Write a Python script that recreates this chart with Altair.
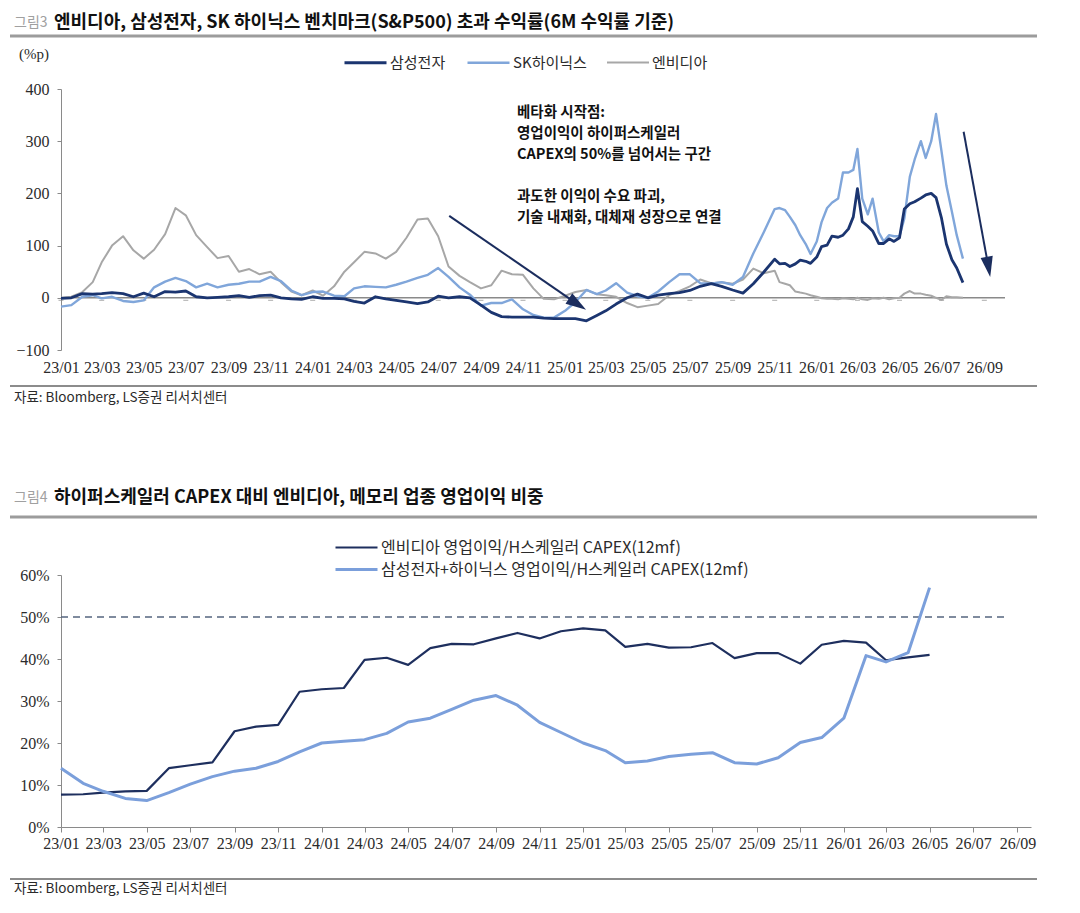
import pandas as pd
import altair as alt

NUM_FONT = "Liberation Sans Narrow"
KR_FONT = "Noto Sans CJK KR"

# ---------- 그림3: 6M excess return vs S&P500 (%p) ----------
top_series = ["삼성전자", "SK하이닉스", "엔비디아"]
top_colors = ["#1b3570", "#80a6da", "#a7a7a7"]
top_widths = [2.8, 2.0, 2.0]

# half-month points 23/01 -> 25/11, then ~weekly points 25/11 -> 26/08
samsung = [
    -1, 0, 8, 7, 8, 10, 8, 2, 9, 2,
    12, 11, 13, 2, 0, 1, 2, 4, 1, 4,
    5, 0, -2, -3, 2, -1, -1, -2, -7, -10,
    2, -2, -5, -8, -11, -8, 3, 0, 2, 0,
    -14, -28, -36, -37, -37, -37, -39, -40, -40, -40,
    -44, -34, -25, -12, 0, 7, 0, 5, 8, 10,
    14, 22, 27, 22, 15, 9, 27, 49, 74,
    65, 66, 60, 65, 72, 70, 66, 78, 98, 101, 118, 116,
    120, 132, 155, 209, 146, 137, 128, 104, 104, 113, 108, 115,
    170, 180, 184, 191, 197, 200, 192, 152, 103, 73, 57, 29,
]
hynix = [
    -17, -14, 2, 5, -1, 2, -6, -8, -5, 20,
    31, 38, 32, 20, 27, 20, 25, 27, 31, 31,
    40, 32, 14, 5, 11, 12, 4, 3, 18, 22,
    21, 20, 25, 31, 38, 44, 57, 40, 20, 6,
    -15, -10, -10, -3, -22, -33, -38, -38, -25, -8,
    15, 7, 14, 28, 10, 3, 0, 12, 30, 45,
    45, 28, 27, 30, 25, 40, 85, 125, 170,
    172, 168, 155, 139, 120, 103, 84, 108, 145, 172, 182, 190,
    240, 240, 245, 285, 190, 160, 190, 125, 108, 120, 118, 118,
    152, 232, 265, 300, 268, 300, 352, 280, 215, 165, 120, 75,
]
nvidia = [
    0, 2, 11, 30, 68, 100, 118, 91, 75, 92,
    122, 172, 158, 120, 97, 76, 80, 50, 55, 45,
    50, 30, 12, 5, 14, 4, 22, 50, 68, 88,
    85, 75, 88, 115, 150, 152, 118, 60, 42, 30,
    18, 24, 52, 45, 44, 18, -2, -3, 4, 11,
    15, 7, 5, 2, -10, -18, -15, -12, 5, 13,
    22, 35, 28, 30, 27, 35, 56, 47, 52,
    30, 27, 24, 12, 10, 8, 5, 2, -1, -2, -2, -3,
    -1, -2, -3, 0, -3, -4, -1, -2, 0, -3, -1, 0,
    8, 13, 8, 8, 6, 4, 0, -4, 3, 1, 1, 0,
]


def top_dates():
    out = []
    for d in pd.date_range("2023-01-01", "2025-10-01", freq="MS"):
        out += [d, d + pd.Timedelta(days=15)]
    out.append(pd.Timestamp("2025-11-01"))
    for d in pd.date_range("2025-11-01", "2026-07-01", freq="MS"):
        out += [d + pd.Timedelta(days=7), d + pd.Timedelta(days=15),
                d + pd.Timedelta(days=22), d + pd.offsets.MonthBegin(1)]
    return [x.strftime("%Y/%m/%d") for x in out]


dates = top_dates()
# draw order: gray under, navy on top
top_df = pd.concat([
    pd.DataFrame({"date": dates, "value": nvidia, "series": "엔비디아"}),
    pd.DataFrame({"date": dates, "value": hynix, "series": "SK하이닉스"}),
    pd.DataFrame({"date": dates, "value": samsung, "series": "삼성전자"}),
])

# arrows (shaft end = centre of head)
arrow_df = pd.DataFrame({
    "arrow": ["a", "a", "b", "b"],
    "date": ["2024/07/17", "2025/01/19", "2026/08/02", "2026/09/07"],
    "value": [157, -12, 318, 59],
})
head_df = pd.DataFrame({
    "date": ["2025/01/19", "2026/09/07"],
    "value": [-12, 59],
    "ang": [123, 170],
})
note_a = ["베타화 시작점:", "영업이익이 하이퍼스케일러", "CAPEX의 50%를 넘어서는 구간"]
note_b = ["과도한 이익이 수요 파괴,", "기술 내재화, 대체재 성장으로 연결"]

# ---------- 그림4: OP / hyperscaler CAPEX (12mf), % ----------
bot_series = ["엔비디아 영업이익/H스케일러 CAPEX(12mf)",
              "삼성전자+하이닉스 영업이익/H스케일러 CAPEX(12mf)"]
bot_colors = ["#1e2f5e", "#7b9fdb"]
nv_ratio = [7.7, 7.8, 8.2, 8.5, 8.6, 14.0, 14.7, 15.4, 22.8, 23.9,
            24.3, 32.2, 32.8, 33.1, 39.8, 40.3, 38.6, 42.6, 43.6, 43.5,
            44.9, 46.2, 44.9, 46.6, 47.3, 46.8, 42.9, 43.6, 42.7, 42.8,
            43.8, 40.2, 41.4, 41.4, 38.9, 43.4, 44.3, 43.9, 39.7, 40.4,
            41.0]
mem_ratio = [14.0, 10.4, 8.5, 6.8, 6.3, 8.2, 10.2, 12.0, 13.3, 14.0,
             15.6, 17.9, 20.0, 20.4, 20.8, 22.3, 25.0, 25.9, 28.0, 30.2,
             31.3, 29.0, 24.9, 22.5, 20.0, 18.2, 15.3, 15.7, 16.8, 17.3,
             17.7, 15.3, 15.0, 16.5, 20.1, 21.3, 25.9, 40.8, 39.3, 41.5,
             57.0]
months = [d.strftime("%Y/%m/%d") for d in pd.date_range("2023-01-01", "2026-05-01", freq="MS")]
bot_df = pd.concat([
    pd.DataFrame({"date": months, "value": nv_ratio, "series": bot_series[0]}),
    pd.DataFrame({"date": months, "value": mem_ratio, "series": bot_series[1]}),
])
threshold = 50

tick_months = [d for d in pd.date_range("2023-01-01", "2026-09-01", freq="2MS")]
tick_values = [alt.DateTime(year=d.year, month=d.month, date=1) for d in tick_months]
tick_df = pd.DataFrame({"date": [d.strftime("%Y/%m/%d") for d in tick_months]})

one = pd.DataFrame({"k": [0]})
AX = "#8a8a8a"
TXT = "#2b2b2b"


def label(text, x, y, size, color=TXT, weight="normal", font=KR_FONT, baseline="middle", **kw):
    return alt.Chart(one).mark_text(
        text=text, font=font, fontSize=size, color=color, fontWeight=weight,
        align="left", baseline=baseline, **kw
    ).encode(x=alt.value(x), y=alt.value(y))


def hline(x1, x2, y, width, color):
    return alt.Chart(one).mark_rule(color=color, strokeWidth=width).encode(
        x=alt.value(x1), x2=alt.value(x2), y=alt.value(y))


TW, TH = 944, 261
x_top = alt.X("date:T", title=None,
              scale=alt.Scale(domain=[alt.DateTime(year=2023, month=1, date=1),
                                      alt.DateTime(year=2026, month=10, date=1)]),
              axis=alt.Axis(values=tick_values, format="%y/%m", domain=False, ticks=False,
                            grid=False, labelPadding=9, labelFlush=False, labelOverlap=False,
                            labelFont=NUM_FONT, labelFontSize=16, labelColor=TXT))
y_top = alt.Y("value:Q", title=None, scale=alt.Scale(domain=[-100, 400], nice=False),
              axis=alt.Axis(values=list(range(-100, 401, 50)), format="d", grid=False,
                            domainColor=AX, tickColor=AX, tickSize=4, labelPadding=8,
                            labelFont=NUM_FONT, labelFontSize=16, labelColor=TXT))

zero = alt.Chart(one).mark_rule(color=AX, strokeWidth=1.5).encode(y=alt.datum(0))
zero_ticks = alt.Chart(tick_df).mark_tick(color=AX, thickness=1, size=5, yOffset=2.5).encode(
    x="date:T", y=alt.datum(0))
top_lines = alt.Chart(top_df).mark_line(strokeJoin="round").encode(
    x=x_top, y=y_top,
    color=alt.Color("series:N", scale=alt.Scale(domain=top_series, range=top_colors),
                    legend=alt.Legend(orient="none", legendX=296, legendY=-35, direction="horizontal",
                                      title=None, symbolType="M-3,0L3,0", symbolSize=196,
                                      symbolStrokeWidth=2.2, labelFont=KR_FONT, labelFontSize=15,
                                      labelColor=TXT, labelOffset=16, columnPadding=16, padding=0)),
    strokeWidth=alt.StrokeWidth("series:N", scale=alt.Scale(domain=top_series, range=top_widths),
                                legend=None),
)
arrows = alt.Chart(arrow_df).mark_line(color="#1b2d5e", strokeWidth=2).encode(
    x="date:T", y="value:Q", detail="arrow:N")
heads = alt.Chart(head_df).mark_point(shape="M0,-1L0.6,1L-0.6,1Z", filled=True, opacity=1,
                                      color="#1b2d5e", size=420).encode(
    x="date:T", y="value:Q", angle=alt.Angle("ang:Q", scale=None))


def note(lines, y):
    return alt.Chart(one).mark_text(text=lines, font=KR_FONT, fontSize=14.5, fontWeight="bold",
                                    color="#111", align="left", baseline="middle",
                                    lineHeight=21).encode(x=alt.value(456), y=alt.value(y))


top = alt.layer(
    zero, zero_ticks, top_lines, arrows, heads,
    note(note_a, 24), note(note_b, 108),
    label("그림3", -47, -66, 14, color="#a0a0a0"),
    label("엔비디아, 삼성전자, SK 하이닉스 벤치마크(S&P500) 초과 수익률(6M 수익률 기준)", -7, -66, 18,
          color="#111", weight="bold"),
    hline(-51, 976, -53, 3, "#9c9c9c"),
    label("(%p)", -42, -35, 15, font=NUM_FONT),
    hline(-51, 976, 297, 2, "#8c8c8c"),
    label("자료: Bloomberg, LS증권 리서치센터", -47, 309, 13.5),
).properties(width=TW, height=TH)

BW, BH = 970, 252
x_bot = alt.X("date:T", title=None,
              scale=alt.Scale(domain=[alt.DateTime(year=2023, month=1, date=1),
                                      alt.DateTime(year=2026, month=9, date=20)]),
              axis=alt.Axis(values=tick_values, format="%y/%m", grid=False, domainColor=AX,
                            tickColor=AX, tickSize=5, labelPadding=3, labelFlush=False,
                            labelOverlap=False, labelFont=NUM_FONT, labelFontSize=16, labelColor=TXT))
y_bot = alt.Y("value:Q", title=None, scale=alt.Scale(domain=[0, 60], nice=False),
              axis=alt.Axis(values=list(range(0, 61, 10)), labelExpr="datum.value + '%'", grid=False,
                            domainColor=AX, tickColor=AX, tickSize=4, labelPadding=8,
                            labelFont=NUM_FONT, labelFontSize=16, labelColor=TXT))

dash = alt.Chart(one).mark_rule(color="#56667f", strokeWidth=1.6, strokeDash=[7, 5]).encode(
    y=alt.datum(threshold),
    x=alt.datum(alt.DateTime(year=2023, month=1, date=1)),
    x2=alt.datum(alt.DateTime(year=2026, month=8, date=20)),
)
bot_lines = alt.Chart(bot_df).mark_line(strokeJoin="round").encode(
    x=x_bot, y=y_bot,
    color=alt.Color("series:N", scale=alt.Scale(domain=bot_series, range=bot_colors),
                    legend=alt.Legend(orient="none", legendX=287, legendY=-36, direction="vertical",
                                      title=None, symbolType="M-3,0L3,0", symbolSize=196,
                                      symbolStrokeWidth=2.6, labelFont=KR_FONT, labelFontSize=16,
                                      labelColor=TXT, labelOffset=16, rowPadding=5, padding=0,
                                      labelLimit=500)),
    strokeWidth=alt.StrokeWidth("series:N", scale=alt.Scale(domain=bot_series, range=[2.2, 3.0]),
                                legend=None),
)

bottom = alt.layer(
    dash, bot_lines,
    label("그림4", -47, -77, 14, color="#a0a0a0"),
    label("하이퍼스케일러 CAPEX 대비 엔비디아, 메모리 업종 영업이익 비중", -7, -77, 18,
          color="#111", weight="bold"),
    hline(-51, 976, -58, 3, "#9c9c9c"),
    hline(-51, 976, 304, 2, "#8c8c8c"),
    label("자료: Bloomberg, LS증권 리서치센터", -47, 314, 13.5),
).properties(width=BW, height=BH)

chart = alt.vconcat(top, bottom, spacing=84).resolve_scale(
    x="independent", y="independent", color="independent", strokeWidth="independent"
).properties(
    padding={"top": 6, "left": 0, "right": 0, "bottom": 0}, background="white"
).configure_view(stroke=None)

chart.save("out.html", embed_options={"renderer": "svg", "actions": False})
